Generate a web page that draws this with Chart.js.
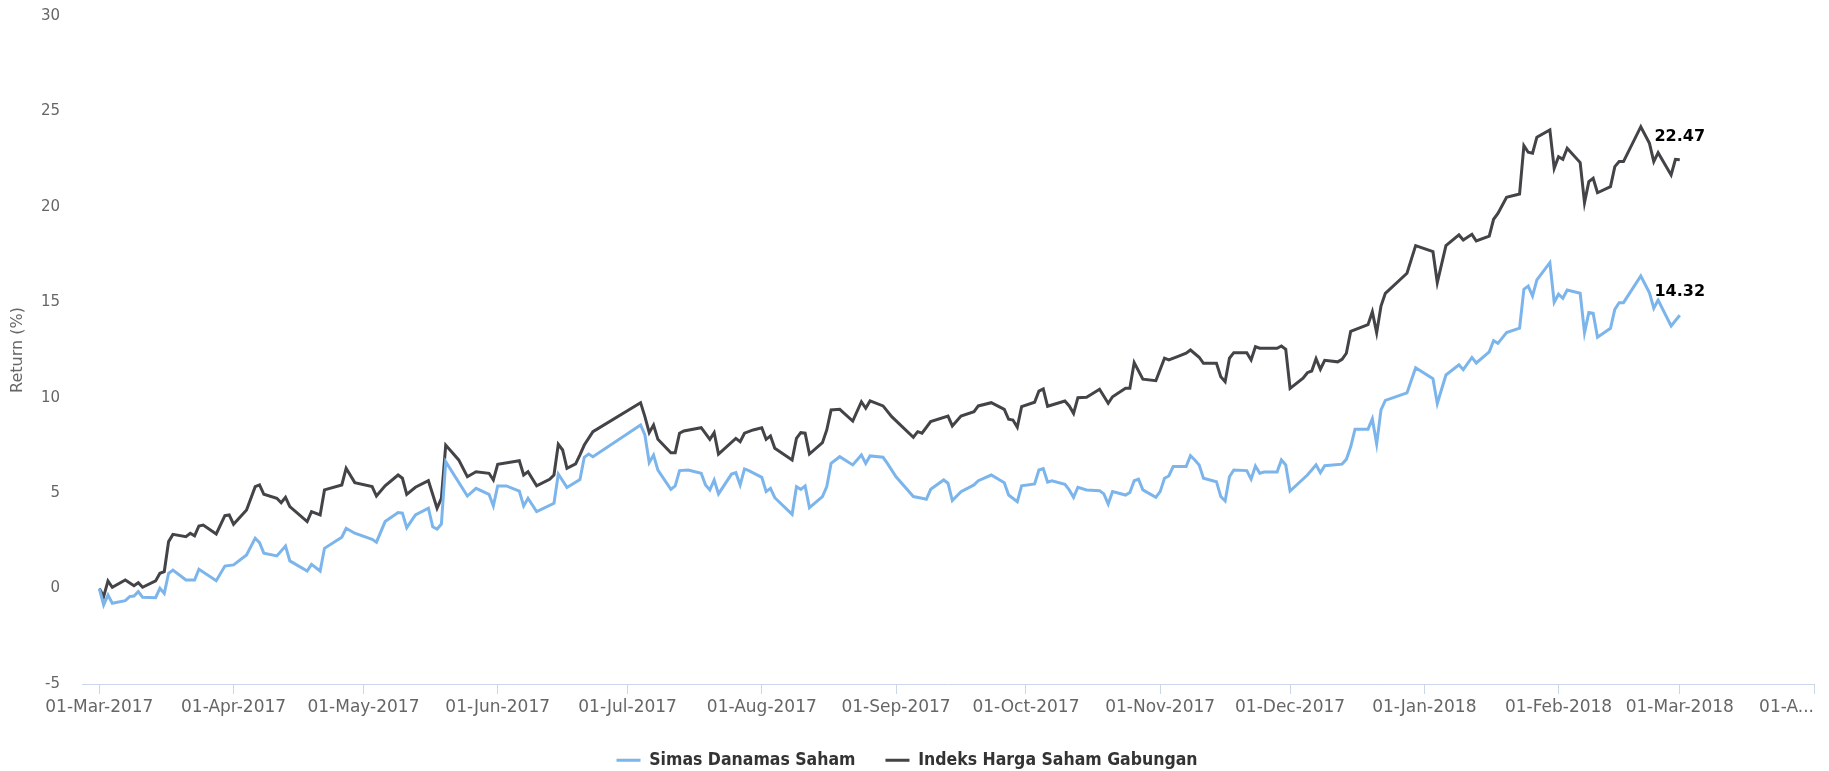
<!DOCTYPE html>
<html lang="en">
<head>
<meta charset="UTF-8">
<title>Return (%) - Simas Danamas Saham vs IHSG</title>
<script src="https://cdn.jsdelivr.net/npm/chart.js@4"></script>
<style>
  html, body { margin: 0; padding: 0; background: #fff; }
  #wrap { width: 1829px; height: 771px; }
</style>
</head>
<body>
<div id="wrap"><canvas id="returnChart"></canvas></div>
<script>
// x axis range and month ticks
const axisStart = '2017-02-25';
const axisEnd = '2018-04-01';
const tickDates = ['2017-03-01','2017-04-01','2017-05-01','2017-06-01','2017-07-01','2017-08-01','2017-09-01',
  '2017-10-01','2017-11-01','2017-12-01','2018-01-01','2018-02-01','2018-03-01','2018-04-01'];
const tickLabels = ['01-Mar-2017','01-Apr-2017','01-May-2017','01-Jun-2017','01-Jul-2017','01-Aug-2017','01-Sep-2017',
  '01-Oct-2017','01-Nov-2017','01-Dec-2017','01-Jan-2018','01-Feb-2018','01-Mar-2018','01-A...'];

const yMin = -5, yMax = 30, yStep = 5;

const simasDates = [
  '2017-03-01','2017-03-02','2017-03-03','2017-03-04','2017-03-07','2017-03-08','2017-03-09','2017-03-10','2017-03-11','2017-03-14','2017-03-15','2017-03-16','2017-03-17','2017-03-18','2017-03-21','2017-03-23','2017-03-24','2017-03-28','2017-03-30',
  '2017-04-01','2017-04-04','2017-04-06','2017-04-07','2017-04-08','2017-04-11','2017-04-13','2017-04-14','2017-04-18','2017-04-19','2017-04-21','2017-04-22','2017-04-26','2017-04-27','2017-04-29',
  '2017-05-03','2017-05-04','2017-05-06','2017-05-09','2017-05-10','2017-05-11','2017-05-13','2017-05-16','2017-05-17','2017-05-18','2017-05-19','2017-05-20','2017-05-25','2017-05-27','2017-05-30','2017-05-31',
  '2017-06-01','2017-06-03','2017-06-06','2017-06-07','2017-06-08','2017-06-10','2017-06-14','2017-06-15','2017-06-17','2017-06-20','2017-06-21','2017-06-22','2017-06-23',
  '2017-07-04','2017-07-05','2017-07-06','2017-07-07','2017-07-08','2017-07-11','2017-07-12','2017-07-13','2017-07-15','2017-07-18','2017-07-19','2017-07-20','2017-07-21','2017-07-22','2017-07-25','2017-07-26','2017-07-27','2017-07-28','2017-07-29',
  '2017-08-01','2017-08-02','2017-08-03','2017-08-04','2017-08-08','2017-08-09','2017-08-10','2017-08-11','2017-08-12','2017-08-15','2017-08-16','2017-08-17','2017-08-19','2017-08-22','2017-08-24','2017-08-25','2017-08-26','2017-08-29','2017-08-30',
  '2017-09-01','2017-09-05','2017-09-07','2017-09-08','2017-09-09','2017-09-12','2017-09-13','2017-09-14','2017-09-16','2017-09-19','2017-09-20','2017-09-23','2017-09-26','2017-09-27','2017-09-29','2017-09-30',
  '2017-10-03','2017-10-04','2017-10-05','2017-10-06','2017-10-07','2017-10-10','2017-10-11','2017-10-12','2017-10-13','2017-10-15','2017-10-18','2017-10-19','2017-10-20','2017-10-21','2017-10-24','2017-10-25','2017-10-26','2017-10-27','2017-10-28','2017-10-31',
  '2017-11-01','2017-11-02','2017-11-03','2017-11-04','2017-11-07','2017-11-08','2017-11-09','2017-11-10','2017-11-11','2017-11-14','2017-11-15','2017-11-16','2017-11-17','2017-11-18','2017-11-21','2017-11-22','2017-11-23','2017-11-24','2017-11-25','2017-11-28','2017-11-29','2017-11-30',
  '2017-12-01','2017-12-05','2017-12-06','2017-12-07','2017-12-08','2017-12-09','2017-12-13','2017-12-14','2017-12-15','2017-12-16','2017-12-19','2017-12-20','2017-12-21','2017-12-22','2017-12-23','2017-12-28','2017-12-30',
  '2018-01-03','2018-01-04','2018-01-06','2018-01-09','2018-01-10','2018-01-12','2018-01-13','2018-01-16','2018-01-17','2018-01-18','2018-01-20','2018-01-23','2018-01-24','2018-01-25','2018-01-26','2018-01-27','2018-01-30','2018-01-31',
  '2018-02-01','2018-02-02','2018-02-03','2018-02-06','2018-02-07','2018-02-08','2018-02-09','2018-02-10','2018-02-13','2018-02-14','2018-02-15','2018-02-16','2018-02-20','2018-02-22','2018-02-23','2018-02-24','2018-02-27',
  '2018-03-01'
];
const simasValues = [
  0.00,-0.86,-0.34,-0.77,-0.63,-0.42,-0.39,-0.16,-0.46,-0.48,0.02,-0.25,0.80,0.97,0.45,0.45,1.01,0.41,1.18,
  1.24,1.76,2.64,2.41,1.85,1.71,2.23,1.45,0.92,1.27,0.92,2.11,2.69,3.16,2.90,
  2.58,2.43,3.51,3.98,3.95,3.19,3.86,4.21,3.24,3.12,3.38,6.65,4.85,5.25,4.94,4.33,
  5.38,5.38,5.11,4.33,4.73,4.03,4.47,6.00,5.30,5.71,6.88,7.05,6.91,
  8.57,8.05,6.60,7.00,6.21,5.20,5.38,6.18,6.21,6.04,5.43,5.17,5.69,4.96,6.00,6.07,5.43,6.27,6.18,
  5.83,5.08,5.25,4.76,3.89,5.34,5.20,5.38,4.24,4.82,5.34,6.56,6.91,6.48,7.00,6.56,6.95,6.88,6.56,
  5.86,4.82,4.73,4.68,5.20,5.69,5.52,4.61,5.08,5.43,5.65,5.95,5.55,4.90,4.55,5.38,
  5.48,6.21,6.28,5.58,5.65,5.46,5.17,4.78,5.31,5.17,5.13,4.96,4.43,5.08,4.90,5.03,5.65,5.73,5.17,4.78,
  5.08,5.78,5.90,6.39,6.39,6.96,6.74,6.48,5.78,5.60,4.82,4.59,5.86,6.21,6.18,5.73,6.42,6.04,6.11,6.11,6.74,6.48,
  5.11,5.95,6.21,6.48,6.07,6.44,6.52,6.77,7.43,8.35,8.35,8.89,7.58,9.36,9.86,10.25,11.57,
  11.00,9.70,11.19,11.72,11.47,12.11,11.82,12.40,12.99,12.85,13.41,13.64,15.68,15.85,15.33,16.17,17.08,15.00,
  15.42,15.21,15.64,15.47,13.41,14.46,14.42,13.17,13.64,14.63,14.98,14.98,16.38,15.50,14.69,15.12,13.76,
  14.32
];

const ihsgDates = [
  '2017-03-01','2017-03-02','2017-03-03','2017-03-04','2017-03-07','2017-03-09','2017-03-10','2017-03-11','2017-03-14','2017-03-15','2017-03-16','2017-03-17','2017-03-18','2017-03-21','2017-03-22','2017-03-23','2017-03-24','2017-03-25','2017-03-28','2017-03-30','2017-03-31',
  '2017-04-01','2017-04-04','2017-04-06','2017-04-07','2017-04-08','2017-04-11','2017-04-12','2017-04-13','2017-04-14','2017-04-18','2017-04-19','2017-04-21','2017-04-22','2017-04-26','2017-04-27','2017-04-29',
  '2017-05-03','2017-05-04','2017-05-06','2017-05-09','2017-05-10','2017-05-11','2017-05-13','2017-05-16','2017-05-18','2017-05-19','2017-05-20','2017-05-23','2017-05-25','2017-05-27','2017-05-30','2017-05-31',
  '2017-06-01','2017-06-06','2017-06-07','2017-06-08','2017-06-10','2017-06-13','2017-06-14','2017-06-15','2017-06-16','2017-06-17','2017-06-19','2017-06-20','2017-06-21','2017-06-23',
  '2017-07-04','2017-07-05','2017-07-06','2017-07-07','2017-07-08','2017-07-11','2017-07-12','2017-07-13','2017-07-14','2017-07-18','2017-07-20','2017-07-21','2017-07-22','2017-07-26','2017-07-27','2017-07-28','2017-07-30',
  '2017-08-01','2017-08-02','2017-08-03','2017-08-04','2017-08-08','2017-08-09','2017-08-10','2017-08-11','2017-08-12','2017-08-15','2017-08-16','2017-08-17','2017-08-19','2017-08-22','2017-08-24','2017-08-25','2017-08-26','2017-08-29','2017-08-31',
  '2017-09-05','2017-09-06','2017-09-07','2017-09-09','2017-09-13','2017-09-14','2017-09-16','2017-09-19','2017-09-20','2017-09-23','2017-09-26','2017-09-27','2017-09-28','2017-09-29','2017-09-30',
  '2017-10-03','2017-10-04','2017-10-05','2017-10-06','2017-10-10','2017-10-11','2017-10-12','2017-10-13','2017-10-15','2017-10-18','2017-10-20','2017-10-21','2017-10-24','2017-10-25','2017-10-26','2017-10-28','2017-10-31',
  '2017-11-02','2017-11-03','2017-11-05','2017-11-07','2017-11-08','2017-11-10','2017-11-11','2017-11-14','2017-11-15','2017-11-16','2017-11-17','2017-11-18','2017-11-21','2017-11-22','2017-11-23','2017-11-24','2017-11-28','2017-11-29','2017-11-30',
  '2017-12-01','2017-12-04','2017-12-05','2017-12-06','2017-12-07','2017-12-08','2017-12-09','2017-12-12','2017-12-13','2017-12-14','2017-12-15','2017-12-19','2017-12-20','2017-12-21','2017-12-22','2017-12-23','2017-12-28','2017-12-30',
  '2018-01-03','2018-01-04','2018-01-06','2018-01-09','2018-01-10','2018-01-12','2018-01-13','2018-01-16','2018-01-17','2018-01-18','2018-01-20','2018-01-23','2018-01-24','2018-01-25','2018-01-26','2018-01-27','2018-01-30','2018-01-31',
  '2018-02-01','2018-02-02','2018-02-03','2018-02-06','2018-02-07','2018-02-08','2018-02-09','2018-02-10','2018-02-13','2018-02-14','2018-02-15','2018-02-16','2018-02-20','2018-02-22','2018-02-23','2018-02-24','2018-02-27','2018-02-28',
  '2018-03-01'
];
const ihsgValues = [
  0.00,-0.42,0.40,0.07,0.45,0.15,0.31,0.07,0.40,0.80,0.89,2.46,2.84,2.72,2.90,2.76,3.28,3.33,2.86,3.82,3.86,
  3.37,4.12,5.34,5.43,4.94,4.73,4.50,4.78,4.29,3.51,4.03,3.86,5.17,5.43,6.30,5.55,
  5.34,4.85,5.38,5.95,5.78,4.94,5.31,5.65,4.21,4.73,7.52,6.74,5.86,6.12,6.04,5.69,
  6.51,6.70,5.95,6.12,5.38,5.73,5.95,7.56,7.26,6.30,6.53,7.00,7.52,8.22,
  9.74,9.01,8.17,8.57,7.82,7.12,7.12,8.14,8.26,8.43,7.82,8.17,7.05,7.87,7.70,8.14,8.31,
  8.43,7.82,8.00,7.35,6.74,7.87,8.17,8.14,7.05,7.64,8.31,9.36,9.39,8.78,9.79,9.45,9.83,9.57,9.01,
  7.93,8.22,8.14,8.75,9.04,8.52,9.04,9.27,9.57,9.74,9.39,8.87,8.83,8.45,9.53,
  9.76,10.35,10.46,9.55,9.83,9.57,9.18,10.00,10.02,10.44,9.71,10.05,10.49,10.49,11.84,10.97,10.89,
  12.07,11.98,12.15,12.33,12.50,12.12,11.80,11.80,11.10,10.84,12.07,12.36,12.36,11.98,12.67,12.59,12.59,12.71,12.54,
  10.49,11.02,11.31,11.40,12.04,11.49,11.96,11.88,12.01,12.33,13.48,13.83,14.50,13.40,14.80,15.47,16.52,17.97,
  17.65,16.03,17.97,18.53,18.26,18.56,18.21,18.47,19.35,19.66,20.50,20.67,23.21,22.86,22.81,23.65,24.03,22.02,
  22.63,22.49,23.07,22.32,20.22,21.32,21.50,20.74,21.06,22.11,22.37,22.37,24.20,23.33,22.37,22.84,21.67,22.49,
  22.47
];

if (simasDates.length !== simasValues.length || ihsgDates.length !== ihsgValues.length) {
  console.error('data length mismatch', simasDates.length, simasValues.length, ihsgDates.length, ihsgValues.length);
}

// days since 01-Mar-2017
const origin = Date.UTC(2017, 2, 1);
function dayIndex(s) {
  const p = s.split('-').map(Number);
  return (Date.UTC(p[0], p[1] - 1, p[2]) - origin) / 86400000;
}
function toPoints(dates, values) {
  return dates.map((d, i) => ({ x: dayIndex(d), y: values[i] }));
}

const axisColor = '#ccd6eb';
const labelColor = '#666666';

// value label on the last point of every line
const lastValueLabels = {
  id: 'lastValueLabels',
  afterDatasetsDraw(chart) {
    const ctx = chart.ctx;
    ctx.save();
    ctx.font = 'bold 16px "DejaVu Sans"';
    ctx.textAlign = 'center';
    ctx.textBaseline = 'middle';
    ctx.lineJoin = 'round';
    chart.data.datasets.forEach((ds, i) => {
      const meta = chart.getDatasetMeta(i);
      const pt = meta.data[meta.data.length - 1];
      const txt = ds.data[ds.data.length - 1].y.toFixed(2);
      ctx.lineWidth = 3;
      ctx.strokeStyle = '#ffffff';
      ctx.strokeText(txt, pt.x, pt.y - 23);
      ctx.fillStyle = '#000000';
      ctx.fillText(txt, pt.x, pt.y - 23);
    });
    ctx.restore();
  }
};

Chart.defaults.font.family = '"DejaVu Sans", sans-serif';

new Chart(document.getElementById('returnChart'), {
  type: 'line',
  data: {
    datasets: [
      {
        label: 'Simas Danamas Saham',
        data: toPoints(simasDates, simasValues),
        borderColor: '#7cb5ec',
        backgroundColor: '#7cb5ec',
        borderWidth: 3,
        pointRadius: 0,
        tension: 0
      },
      {
        label: 'Indeks Harga Saham Gabungan',
        data: toPoints(ihsgDates, ihsgValues),
        borderColor: '#434348',
        backgroundColor: '#434348',
        borderWidth: 3,
        pointRadius: 0,
        tension: 0
      }
    ]
  },
  options: {
    responsive: true,
    maintainAspectRatio: false,
    animation: false,
    layout: { padding: { top: 16, right: 15, bottom: -8, left: 0 } },
    plugins: {
      tooltip: { enabled: false },
      legend: {
        position: 'bottom',
        labels: {
          usePointStyle: true,
          pointStyle: 'line',
          pointStyleWidth: 24,
          padding: 30,
          color: '#333333',
          font: { family: '"DejaVu Sans Condensed", "DejaVu Sans", sans-serif', size: 17.5, weight: 'bold' }
        }
      }
    },
    scales: {
      x: {
        type: 'linear',
        min: dayIndex(axisStart),
        max: dayIndex(axisEnd),
        afterBuildTicks(scale) {
          scale.ticks = [{ value: scale.min }].concat(tickDates.map(d => ({ value: dayIndex(d) })));
        },
        afterFit(scale) {
          scale.height = 37.5;
        },
        ticks: {
          autoSkip: false,
          maxRotation: 0,
          minRotation: 0,
          align: 'inner',
          padding: 3,
          color: labelColor,
          font: { size: 17 },
          callback(value, index) {
            return index === 0 ? '' : tickLabels[index - 1];
          }
        },
        grid: {
          drawOnChartArea: false,
          drawTicks: true,
          tickLength: 10,
          tickColor: (c) => (c.index === 0 ? 'rgba(0,0,0,0)' : axisColor),
          color: axisColor
        },
        border: { display: true, color: axisColor, width: 1 }
      },
      y: {
        min: yMin,
        max: yMax,
        afterFit(scale) {
          scale.width = 82;
          scale.paddingTop = 0;
          scale.paddingBottom = 0;
        },
        ticks: {
          stepSize: yStep,
          padding: 22,
          color: labelColor,
          font: { size: 15 }
        },
        grid: { display: false, drawTicks: false },
        border: { display: false },
        title: {
          display: true,
          text: 'Return (%)',
          color: labelColor,
          font: { size: 16 },
          padding: { top: 8, bottom: 0 }
        }
      }
    }
  },
  plugins: [lastValueLabels]
});
</script>
</body>
</html>
